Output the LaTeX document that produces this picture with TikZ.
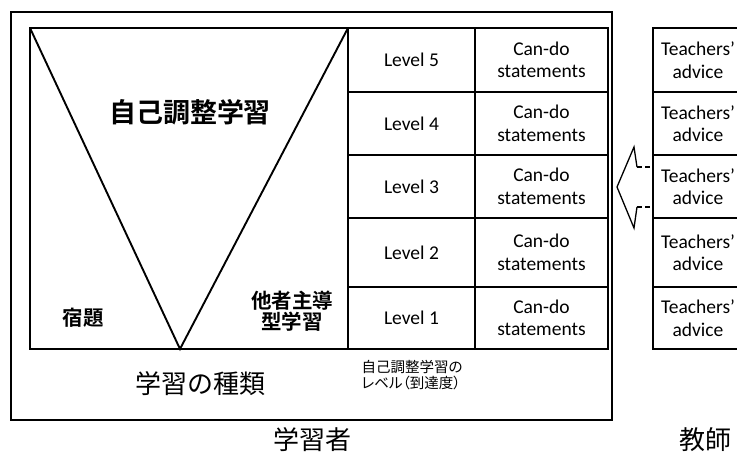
\documentclass[tikz,border=0pt]{standalone}
\usepackage{fontspec}
\setmainfont{Carlito}
\newfontfamily\jp{Noto Sans CJK JP}
\newfontfamily\jpp[CharacterWidth=AlternateProportional]{Noto Sans CJK JP}
\newfontfamily\jpb{Noto Sans CJK JP Bold}
\begin{document}
\begin{tikzpicture}[x=1pt,y=-1pt,
  cell/.style={draw,line width=1.7pt},
  lat/.style={font=\fontsize{19.5}{22.5}\selectfont,align=center},
  jbig/.style={font=\jpb\fontsize{27}{30}\selectfont},
  jmid/.style={font=\jpb\fontsize{20.5}{23}\selectfont,align=center},
  jlab/.style={font=\jp\fontsize{26}{30}\selectfont},
  jsmall/.style={font=\jpp\fontsize{14.5}{16}\selectfont,align=left}]
\useasboundingbox (0,0) rectangle (737,460);
% outer learner box
\draw[line width=2.6pt] (11,12) rectangle (612,420);
% inner box with triangle
\draw[line width=2.3pt] (30,28) rectangle (348,349);
\coordinate (tl) at (30,28);
\coordinate (tr) at (348,28);
\coordinate (apex) at (180,349);
\draw[line width=1.9pt] (tl) -- (apex) -- (tr);
\node[jbig] (srl) at (190,112) {自己調整学習};
\node[jmid] (hw) at (83,318) {宿題};
\node[jmid] (oth) at (292,311) {他者主導\\[-2pt]型学習};
\node[jlab] (kind) at (200,384) {学習の種類};
\node[jsmall] (lvlab) at (412,375) {自己調整学習の\\レベル（到達度）};
% level grid
\foreach \i/\t/\b in {5/28/92,4/92/155,3/155/218,2/218/287,1/287/349}{
  \draw[cell] (348,\t) rectangle (475,\b);
  \draw[cell] (475,\t) rectangle (608,\b);
  \node[lat] (L\i) at (411.5,{(\t+\b)/2}) {Level \i};
  \node[lat] (C\i) at (541.5,{(\t+\b)/2}) {Can-do\\statements};
  \draw[cell] (653,\t) rectangle (745,\b);
  \node[lat] (T\i) at (698,{(\t+\b)/2}) {Teachers’\\advice};
}
% hollow arrow
\coordinate (a1) at (637,167);
\coordinate (a2) at (634,147);
\coordinate (tip) at (617,187);
\coordinate (a3) at (634,228);
\coordinate (a4) at (637,207);
\coordinate (s1) at (653,167);
\coordinate (s2) at (653,207);
\draw[line width=1.3pt,line join=miter] (a1) -- (a2) -- (tip) -- (a3) -- (a4);
\draw[line width=1.8pt,dash pattern=on 5pt off 3pt] (a1) -- (s1);
\draw[line width=1.8pt,dash pattern=on 5pt off 3pt] (a4) -- (s2);
% bottom labels
\node[jlab] (learner) at (312,440) {学習者};
\node[jlab] (teacher) at (705,440) {教師};
\end{tikzpicture}
\end{document}
